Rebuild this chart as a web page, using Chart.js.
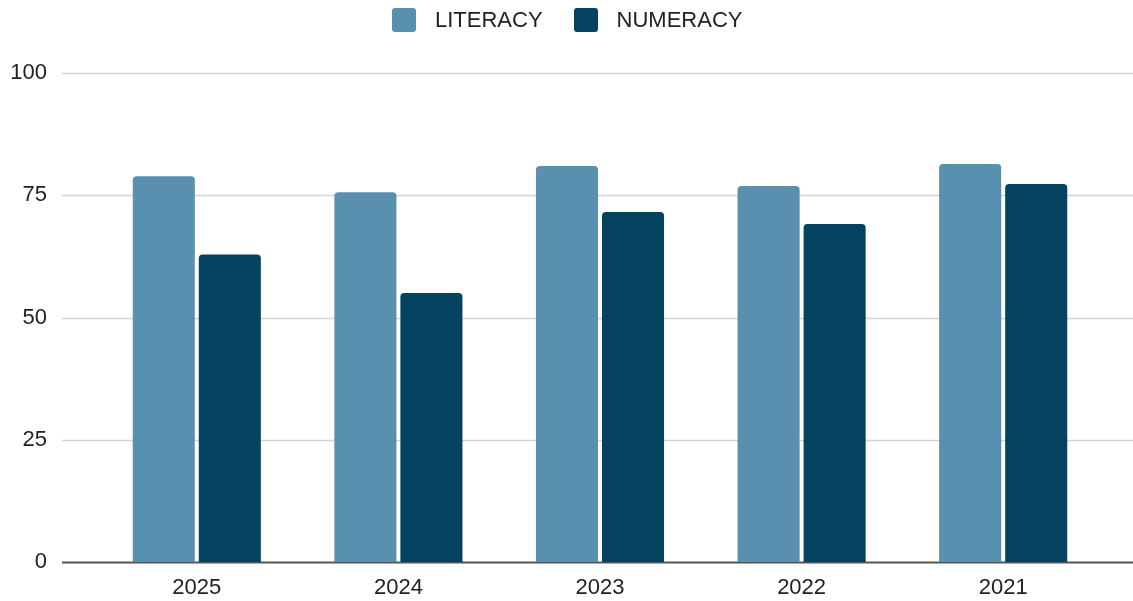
<!DOCTYPE html>
<html>
<head>
<meta charset="utf-8">
<script src="https://cdn.jsdelivr.net/npm/chart.js@4.4.1/dist/chart.umd.min.js"></script>
<style>
  html, body { margin: 0; padding: 0; background: #ffffff; }
  #wrap { width: 1133px; height: 601px; position: relative; }
  #scoresChart { position: absolute; left: 0; top: 0; }
  #legend {
    position: absolute; top: 7px; left: 392px;
    display: flex; align-items: center;
    font-family: 'Liberation Sans', Arial, sans-serif; font-size: 22px; color: #222222;
  }
  #legend .item { display: flex; align-items: center; margin-right: 31px; }
  #legend .box { width: 24px; height: 24px; border-radius: 3px; margin-right: 19px; }
</style>
</head>
<body>
<div id="wrap">
  <canvas id="scoresChart" width="1133" height="601"></canvas>
  <div id="legend"></div>
</div>
<script>
let years = ['2025', '2024', '2023', '2022', '2021'];
let literacy = [78.9, 75.6, 81.0, 76.9, 81.4];
let numeracy = [62.9, 55.0, 71.6, 69.1, 77.3];
let yTicks = [0, 25, 50, 75, 100];

let ctxScores = document.getElementById('scoresChart').getContext('2d');
let fontFamily = "'Liberation Sans', Arial, sans-serif";

// gridlines run the full width, past the category band on both sides
const fullGrid = {
  id: 'fullGrid',
  beforeDatasetsDraw(chart) {
    let c = chart.ctx;
    let y = chart.scales.y;
    let left = chart.chartArea.left - 34;
    let right = chart.width;
    c.save();
    yTicks.forEach(function(v) {
      let py = Math.round(y.getPixelForValue(v)) + 0.5;
      c.beginPath();
      c.lineWidth = v === 0 ? 2 : 1.5;
      c.strokeStyle = v === 0 ? '#555555' : '#d4d4d4';
      c.moveTo(left, py);
      c.lineTo(right, py);
      c.stroke();
    });
    c.restore();
  }
};

let scoresBar = new Chart(ctxScores, {
  type: 'bar',
  data: {
    labels: years,
    datasets: [{
      label: 'LITERACY',
      data: literacy,
      backgroundColor: '#5990b0',
      borderRadius: { topLeft: 4, topRight: 4 },
      borderSkipped: 'bottom',
      categoryPercentage: 0.655,
      barPercentage: 0.94
    }, {
      label: 'NUMERACY',
      data: numeracy,
      backgroundColor: '#03435f',
      borderRadius: { topLeft: 4, topRight: 4 },
      borderSkipped: 'bottom',
      categoryPercentage: 0.655,
      barPercentage: 0.94
    }]
  },
  options: {
    responsive: false,
    animation: false,
    layout: {
      padding: { left: 0, right: 29, top: 73, bottom: 0 }
    },
    plugins: {
      legend: { display: false },
      tooltip: { enabled: false }
    },
    scales: {
      x: {
        afterFit(axis) {
          axis.height = 39;
        },
        grid: { display: false, drawTicks: false },
        border: { display: false },
        ticks: {
          color: '#222222',
          padding: 13,
          font: { family: fontFamily, size: 22 }
        }
      },
      y: {
        min: 0,
        max: 100,
        afterBuildTicks(axis) {
          axis.ticks = yTicks.map(function(v) { return { value: v }; });
        },
        afterFit(axis) {
          axis.width = 96;
          // the big tick padding otherwise leaks into the top/bottom layout padding
          axis.paddingTop = 0;
          axis.paddingBottom = 0;
        },
        grid: { display: false, drawTicks: false },
        border: { display: false },
        ticks: {
          color: '#222222',
          padding: 49,
          font: { family: fontFamily, size: 22 }
        }
      }
    }
  },
  plugins: [fullGrid]
});

// legend built from the datasets
let legendEl = document.getElementById('legend');
scoresBar.data.datasets.forEach(function(ds) {
  let item = document.createElement('div');
  item.className = 'item';
  let box = document.createElement('span');
  box.className = 'box';
  box.style.background = ds.backgroundColor;
  let txt = document.createElement('span');
  txt.textContent = ds.label;
  item.appendChild(box);
  item.appendChild(txt);
  legendEl.appendChild(item);
});
</script>
</body>
</html>
